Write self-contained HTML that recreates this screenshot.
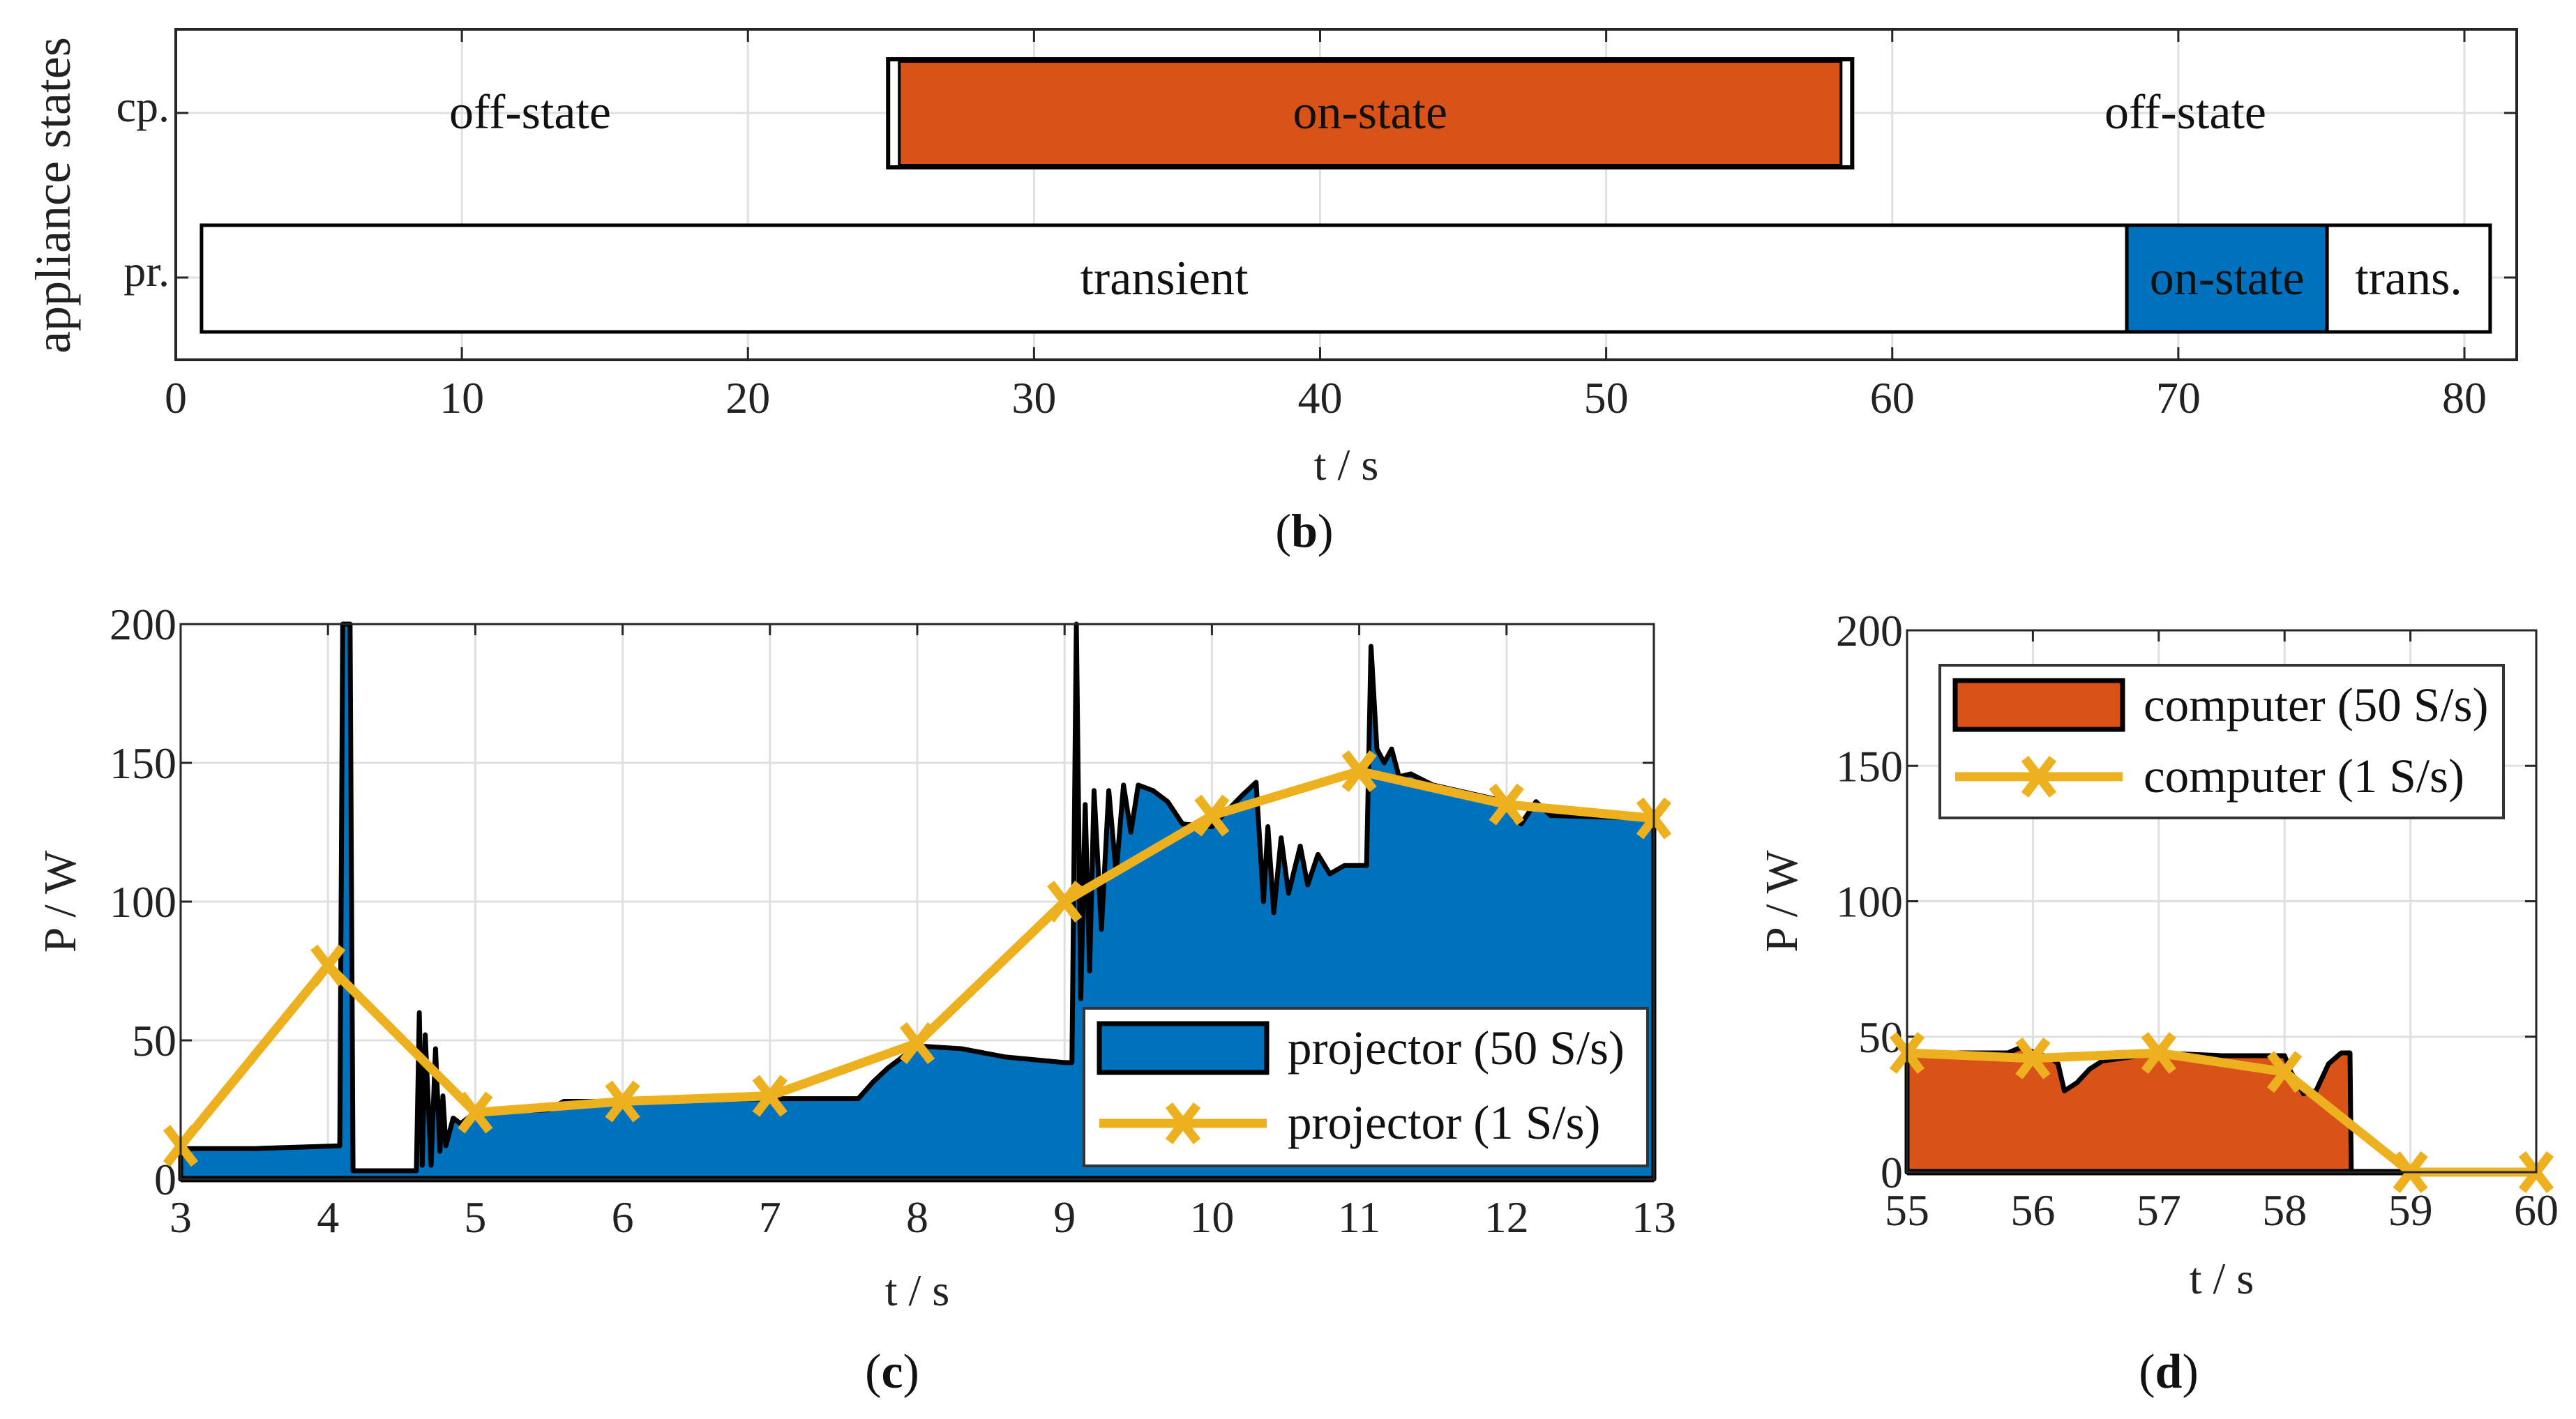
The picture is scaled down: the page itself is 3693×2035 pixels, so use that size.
<!DOCTYPE html>
<html><head><meta charset="utf-8"><style>
html,body{margin:0;padding:0;background:#fff;}
svg{display:block;font-family:"Liberation Serif","DejaVu Serif",serif;}
</style></head><body>
<svg id="fig" width="3693" height="2035" viewBox="0 0 3693 2035" xmlns="http://www.w3.org/2000/svg">
<g id="gb"></g>
<g id="gc"></g>
<g id="gd"></g>
</svg>
<script>
// ---- Chart b data ----
const bTicks = [0,10,20,30,40,50,60,70,80];
const bRows = ["cp.","pr."];
const cpStart = [0.8, 24.9, 58.6];
const cpEnd = [24.9, 58.6, 81];
const cpLabels = ["off-state","on-state","off-state"];
const prStart = [0.9, 68.2, 75.2];
const prEnd = [68.2, 75.2, 80.9];
const prLabels = ["transient","on-state","trans."];
// ---- Chart c data ----
const cTicksX = [3,4,5,6,7,8,9,10,11,12,13];
const cTicksY = [0,50,100,150,200];
const c1sT = [3,4,5,6,7,8,9,10,11,12,13];
const c1sP = [12,77,24,28,30,49,100,131,147,135,130];
const c50T = [3,3.5,4.08,4.1,4.15,4.17,4.6,4.62,4.64,4.66,4.7,4.73,4.76,4.78,4.8,4.85,4.9,5.0,5.5,5.6,6,7,7.6,7.7,7.8,8.0,8.3,8.6,9.0,9.05,9.08,9.11,9.14,9.17,9.2,9.25,9.3,9.35,9.4,9.45,9.5,9.6,9.7,9.8,10.0,10.2,10.3,10.35,10.38,10.42,10.47,10.52,10.6,10.65,10.72,10.8,10.9,11.05,11.08,11.12,11.17,11.22,11.27,11.35,11.5,12.0,12.05,12.1,12.2,12.3,13];
const c50P = [11,11,12,200,200,3,3,60,5,52,5,47,10,30,12,22,20,24,25,28,28,29,29,35,40,48,47,44,42,42,200,65,135,75,140,90,140,110,142,125,142,140,136,128,127,138,143,100,127,96,123,103,120,106,117,110,113,113,192,155,150,155,145,146,142,136,130,128,136,131,130];
// ---- Chart d data ----
const dTicksX = [55,56,57,58,59,60];
const dTicksY = [0,50,100,150,200];
const d1sT = [55,56,57,58,59,60];
const d1sP = [44,42,44,37,0,0];
const d50T = [55,55.8,55.9,56.15,56.2,56.25,56.35,56.45,56.55,57,57.5,58,58.05,58.15,58.25,58.3,58.35,58.45,58.52,58.53,60];
const d50P = [44,44,46,42,40,30,33,38,41,44,43,43,37,29,30,35,40,44,44,0,0];

const NS="http://www.w3.org/2000/svg";
function mk(parent,tag,attrs,text){const e=document.createElementNS(NS,tag);for(const k in attrs)e.setAttribute(k,attrs[k]);if(text!==undefined)e.textContent=text;parent.appendChild(e);return e;}
const BLUE="#0072bd",ORANGE="#d95319",YEL="#edb120",GRID="#e0e0e0",AX="#262626";

// ===== Chart b =====
(function(){
const g=document.getElementById('gb');
const L=252,R=3608,T=42,B=516;
const x=v=>L+(v-0)*(3533-252)/80;
const rowY=[162,398];
bTicks.forEach(t=>{
 const l=mk(g,'line',{x1:x(t),x2:x(t),y1:T,y2:B,stroke:GRID,'stroke-width':3});
 
 
 mk(g,'line',{x1:x(t),x2:x(t),y1:T,y2:T+18,stroke:AX,'stroke-width':3});
 mk(g,'line',{x1:x(t),x2:x(t),y1:B,y2:B-18,stroke:AX,'stroke-width':3});
 const tx=mk(g,'text',{x:x(t),y:592,'font-size':64,'text-anchor':'middle',fill:'#222'},String(t));
 
 
});
rowY.forEach((y,i)=>{
 mk(g,'line',{x1:L,x2:R,y1:y,y2:y,stroke:GRID,'stroke-width':3});
 mk(g,'line',{x1:L,x2:L+18,y1:y,y2:y,stroke:AX,'stroke-width':3});
 mk(g,'line',{x1:R,x2:R-18,y1:y,y2:y,stroke:AX,'stroke-width':3});
 const tl=mk(g,'text',{x:243,y:y+12,'font-size':64,'text-anchor':'end',fill:'#222'},bRows[i]);
 
 
});
const cpY0=85,cpY1=240;
mk(g,'rect',{x:x(cpStart[1]),y:cpY0,width:x(cpEnd[1])-x(cpStart[1]),height:cpY1-cpY0,fill:'#fff',stroke:'#000','stroke-width':6});
const or=mk(g,'rect',{x:x(cpStart[1])+16,y:cpY0+3,width:x(cpEnd[1])-x(cpStart[1])-32,height:cpY1-cpY0-6,fill:ORANGE,stroke:'#000','stroke-width':4});


cpLabels.forEach((s,i)=>{
 const cx=i===0?760:(i===2?3133:(x(cpStart[i])+x(cpEnd[i]))/2);
 const t=mk(g,'text',{x:cx,y:184,'font-size':70,'text-anchor':'middle',fill:'#111'},s);
 
 
});
const prY0=323,prY1=476;
prStart.forEach((s,i)=>{
 const r=mk(g,'rect',{x:x(s),y:prY0,width:x(prEnd[i])-x(s),height:prY1-prY0,fill:i===1?BLUE:'#fff',stroke:'#000','stroke-width':5});
 
 
 const t=mk(g,'text',{x:(x(s)+x(prEnd[i]))/2,y:422,'font-size':70,'text-anchor':'middle',fill:'#111'},prLabels[i]);
 
 
});
mk(g,'rect',{x:L,y:T,width:R-L,height:B-T,fill:'none',stroke:AX,'stroke-width':4});
const xt=mk(g,'text',{x:1930,y:688,'font-size':64,'text-anchor':'middle',fill:'#222'},'t / s');

const yt=mk(g,'text',{x:0,y:0,'font-size':72,'text-anchor':'middle',fill:'#222',transform:'translate(100,280) rotate(-90)'},'appliance states');

const lb=mk(g,'text',{x:1870,y:784,'font-size':68,'text-anchor':'middle',fill:'#111'},'');
lb.innerHTML='(<tspan font-weight="bold">b</tspan>)';

})();

function powerChart(g,o){
 const x=v=>o.L+(v-o.x0)*(o.R-o.L)/(o.x1-o.x0);
 const y=v=>o.B-v*(o.B-o.T)/200;
 o.tx.forEach(t=>{
  mk(g,'line',{x1:x(t),x2:x(t),y1:o.T,y2:o.B,stroke:GRID,'stroke-width':3});
  mk(g,'line',{x1:x(t),x2:x(t),y1:o.T,y2:o.T+16,stroke:AX,'stroke-width':3});
  const l=mk(g,'text',{x:x(t),y:o.B+(o.xlo||76),'font-size':64,'text-anchor':'middle',fill:'#222'},String(t));
  
  
 });
 o.ty.forEach(v=>{
  mk(g,'line',{x1:o.L,x2:o.R,y1:y(v),y2:y(v),stroke:GRID,'stroke-width':3});
  mk(g,'line',{x1:o.L,x2:o.L+16,y1:y(v),y2:y(v),stroke:AX,'stroke-width':3});
  mk(g,'line',{x1:o.R,x2:o.R-16,y1:y(v),y2:y(v),stroke:AX,'stroke-width':3});
  const l=mk(g,'text',{x:o.L-6,y:y(v)+22,'font-size':64,'text-anchor':'end',fill:'#222'},String(v));
  
  
 });
 let d='M'+x(o.hT[0])+','+y(0);
 o.hT.forEach((t,i)=>{d+=' L'+x(t)+','+y(o.hP[i]);});
 d+=' L'+x(o.hT[o.hT.length-1])+','+y(0)+' Z';
 const a=mk(g,'path',{d:d,fill:o.col,stroke:'#000','stroke-width':7,'stroke-linejoin':'round'});
 
 
 mk(g,'line',{x1:o.L,x2:o.R,y1:o.B,y2:o.B,stroke:'#000','stroke-width':9});
 const pts=o.lT.map((t,i)=>x(t)+','+y(o.lP[i])).join(' ');
 const pl=mk(g,'polyline',{points:pts,fill:'none',stroke:YEL,'stroke-width':13,'stroke-linejoin':'round'});
 
 
 o.lT.forEach((t,i)=>{
  const cx=x(t),cy=y(o.lP[i]),s=20;
  const m=mk(g,'path',{d:`M${cx-s},${cy-s*1.3}L${cx+s},${cy+s*1.3}M${cx-s},${cy+s*1.3}L${cx+s},${cy-s*1.3}`,stroke:YEL,'stroke-width':13,fill:'none'});
  
  
 });
 mk(g,'rect',{x:o.L,y:o.T,width:o.R-o.L,height:o.B-o.T,fill:'none',stroke:AX,'stroke-width':3});
 const lg=mk(g,'g',{});
 
 
 const Lx=o.leg[0],Ly=o.leg[1],Lw=o.leg[2],Lh=o.leg[3];
 mk(lg,'rect',{x:Lx,y:Ly,width:Lw,height:Lh,fill:'#fff',stroke:'#333','stroke-width':4});
 mk(lg,'rect',{x:Lx+22,y:Ly+22,width:240,height:70,fill:o.col,stroke:'#000','stroke-width':7});
 const ly2=Ly+Lh*0.73;
 mk(lg,'line',{x1:Lx+22,x2:Lx+262,y1:ly2,y2:ly2,stroke:YEL,'stroke-width':13});
 mk(lg,'path',{d:`M${Lx+122},${ly2-26}L${Lx+162},${ly2+26}M${Lx+122},${ly2+26}L${Lx+162},${ly2-26}`,stroke:YEL,'stroke-width':13});
 const t1=mk(lg,'text',{x:Lx+292,y:Ly+80,'font-size':69,fill:'#111'},o.name+' (50 S/s)');
 
 const t2=mk(lg,'text',{x:Lx+292,y:ly2+22,'font-size':69,fill:'#111'},o.name+' (1 S/s)');
 
 const xt=mk(g,'text',{x:(o.L+o.R)/2,y:o.xtY,'font-size':64,'text-anchor':'middle',fill:'#222'},'t / s');
 
 const yt=mk(g,'text',{x:0,y:0,'font-size':66,'text-anchor':'middle',fill:'#222',transform:`translate(${o.ytX},${(o.T+o.B)/2}) rotate(-90)`},'P / W');
 
 const pl2=mk(g,'text',{x:o.plX,y:1990,'font-size':70,'text-anchor':'middle',fill:'#111'},'');
 pl2.innerHTML='(<tspan font-weight="bold">'+o.panel+'</tspan>)';
 
}
powerChart(document.getElementById('gc'),{L:259,R:2371,T:895,B:1691,x0:3,x1:13,tx:cTicksX,ty:cTicksY,hT:c50T,hP:c50P,lT:c1sT,lP:c1sP,col:BLUE,name:'projector',leg:[1554,1446,808,226],xtY:1872,ytX:108,plX:1279,panel:'c'});
powerChart(document.getElementById('gd'),{L:2734,R:3636,T:904,B:1681,x0:55,x1:60,tx:dTicksX,ty:dTicksY,hT:d50T,hP:d50P,lT:d1sT,lP:d1sP,col:ORANGE,name:'computer',leg:[2781,954,808,219],xtY:1855,ytX:2576,plX:3109,panel:'d',xlo:76});
</script>
</body></html>
